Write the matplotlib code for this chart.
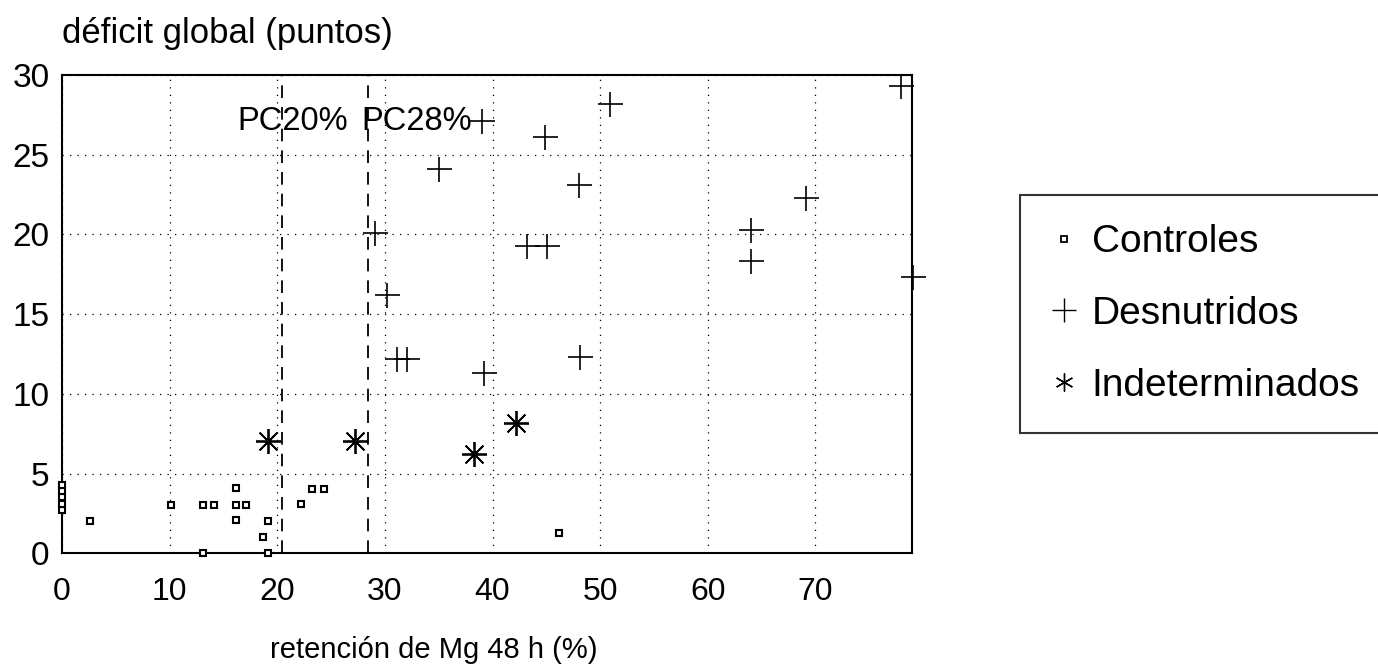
import matplotlib.pyplot as plt
from matplotlib.lines import Line2D

plt.rcParams['font.family'] = ['Liberation Sans', 'DejaVu Sans']

# controles (small squares)
ctrl_x = [0, 0, 0, 0, 0, 2.6, 10.1, 13.1, 14.1, 16.2, 16.2, 17.1, 16.2, 19.1, 18.7,
          13.1, 19.1, 22.2, 23.2, 24.3, 46.2]
ctrl_y = [2.7, 3.1, 3.5, 3.9, 4.3, 2.0, 3.0, 3.0, 3.0, 4.1, 3.0, 3.0, 2.1, 2.0, 1.05,
          0.0, 0.0, 3.1, 4.0, 4.0, 1.3]

# desnutridos (+)
desn_x = [39.0, 44.9, 35.0, 48.0, 29.1, 43.2, 45.1, 50.9, 78.0, 69.1, 64.0, 64.0, 79.1,
          30.2, 31.1, 32.1, 39.2, 48.1]
desn_y = [27.1, 26.1, 24.1, 23.1, 20.1, 19.3, 19.3, 28.2, 29.3, 22.3, 20.3, 18.3, 17.3,
          16.2, 12.2, 12.2, 11.3, 12.3]

# indeterminados (asterisk)
ind_x = [19.1, 27.2, 38.3, 42.2]
ind_y = [7.05, 7.05, 6.25, 8.2]

# cut-off lines
pc_x = [20.4, 28.4]
pc_labels = ['PC20%', 'PC28%']
pc_label_x = [16.3, 27.8]

xticks = [0, 10, 20, 30, 40, 50, 60, 70]
yticks = [0, 5, 10, 15, 20, 25, 30]

fig = plt.figure(figsize=(13.78, 6.69), dpi=100)
ax = fig.add_axes([0.045, 0.173, 0.617, 0.715])

ax.set_xlim(0, 79)
ax.set_ylim(0, 30)
ax.set_xticks(xticks)
ax.set_yticks(yticks)
ax.tick_params(axis='both', length=0)
ax.tick_params(axis='x', pad=17, labelsize=23)
ax.tick_params(axis='y', pad=9, labelsize=24)
ax.grid(True, color='black', linestyle=(0, (1, 5)), linewidth=0.9)
for s in ax.spines.values():
    s.set_linewidth(1.5)

for xv in pc_x:
    ax.axvline(xv, color='black', linestyle=(0, (7, 5)), linewidth=1.3, zorder=2)
for lx, lab in zip(pc_label_x, pc_labels):
    ax.text(lx, 27.1, lab, fontsize=23.5, ha='left', va='center', zorder=3)

ax.plot(ctrl_x, ctrl_y, linestyle='none', marker='s', markersize=4.5,
        markerfacecolor='white', markeredgecolor='black', markeredgewidth=1.5,
        clip_on=False, zorder=4)
ax.plot(desn_x, desn_y, linestyle='none', marker='+', markersize=18,
        color='black', markeredgewidth=1.2, clip_on=False, zorder=4)
ax.plot(ind_x, ind_y, linestyle='none', marker=(8, 2, 0), markersize=18,
        color='black', markeredgewidth=1.3, zorder=4)

fig.text(0.045, 0.950, 'déficit global (puntos)', fontsize=25, ha='left', va='center')
fig.text(0.315, 0.028, 'retención de Mg 48 h (%)', fontsize=21, ha='center', va='center')

handles = [
    Line2D([], [], linestyle='none', marker='s', markersize=4.5, markerfacecolor='white',
           markeredgecolor='black', markeredgewidth=1.3),
    Line2D([], [], linestyle='none', marker='+', markersize=17, color='black',
           markeredgewidth=1.0),
    Line2D([], [], linestyle='none', marker=(6, 2, 0), markersize=13, color='black',
           markeredgewidth=1.0),
]
leg = fig.legend(handles, ['Controles', 'Desnutridos', 'Indeterminados'],
                 loc='upper left', bbox_to_anchor=(0.740, 0.30, 0.32, 0.4085),
                 mode='expand', fontsize=28, frameon=True, fancybox=False,
                 handlelength=0.8, handletextpad=0.3, labelspacing=0.92,
                 borderpad=0.75, borderaxespad=0)
leg.get_frame().set_edgecolor('black')
leg.get_frame().set_linewidth(1.5)

fig.savefig('out.png', dpi=100)
